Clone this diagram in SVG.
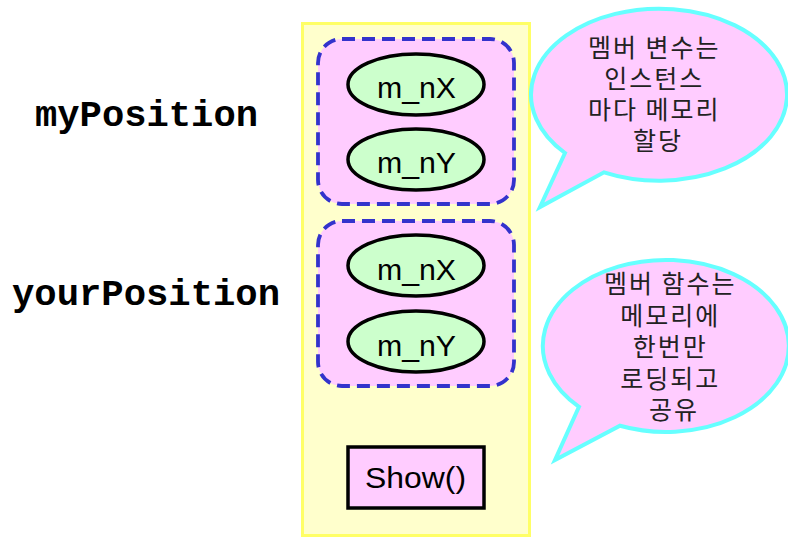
<svg xmlns="http://www.w3.org/2000/svg" width="788" height="537" viewBox="0 0 788 537">
  <style>
    .label { font-family: "Liberation Mono", "Courier New", monospace; font-weight: bold; font-size: 36px; fill: #000; }
    .member { fill: #ffccff; stroke: #3333cc; stroke-width: 3.8; stroke-dasharray: 13 7; }
    .field { fill: #ccffcc; stroke: #000; stroke-width: 3.5; }
    .ftext { font-family: "Liberation Sans", Arial, sans-serif; font-size: 29px; fill: #000; text-anchor: middle; }
    .bubble { fill: #ffccff; stroke: #66ffff; stroke-width: 4; stroke-linejoin: miter; }
    .btext { font-family: "Noto Sans CJK KR", "Noto Sans", sans-serif; font-size: 25px; fill: #222; text-anchor: middle; letter-spacing: 2px; }
  </style>

  <rect width="788" height="537" fill="#ffffff"/>

  <!-- object labels -->
  <g id="label-myPosition">
    <text class="label" x="35" y="126" textLength="223" lengthAdjust="spacingAndGlyphs">myPosition</text>
  </g>
  <g id="label-yourPosition">
    <text class="label" x="12" y="305" textLength="268" lengthAdjust="spacingAndGlyphs">yourPosition</text>
  </g>

  <!-- memory column -->
  <g id="memory">
    <rect x="302.5" y="23.5" width="227" height="512" fill="#ffffcc" stroke="#ffff66" stroke-width="3"/>
  </g>

  <!-- myPosition instance -->
  <g id="instance-my">
    <rect class="member" x="318" y="39" width="196" height="165" rx="24" ry="24"/>
    <ellipse class="field" cx="416" cy="84.5" rx="68" ry="30.5"/>
    <text class="ftext" x="416.5" y="98" textLength="79" lengthAdjust="spacingAndGlyphs">m_nX</text>
    <ellipse class="field" cx="416" cy="159.5" rx="68" ry="30.5"/>
    <text class="ftext" x="416.5" y="173" textLength="79" lengthAdjust="spacingAndGlyphs">m_nY</text>
  </g>

  <!-- yourPosition instance -->
  <g id="instance-your">
    <rect class="member" x="318" y="221" width="196" height="165" rx="24" ry="24"/>
    <ellipse class="field" cx="416" cy="265.5" rx="68" ry="30.5"/>
    <text class="ftext" x="416.5" y="280" textLength="79" lengthAdjust="spacingAndGlyphs">m_nX</text>
    <ellipse class="field" cx="416" cy="341.5" rx="68" ry="30.5"/>
    <text class="ftext" x="416.5" y="356" textLength="79" lengthAdjust="spacingAndGlyphs">m_nY</text>
  </g>

  <!-- shared member function -->
  <g id="method-show">
    <rect x="348" y="447" width="136" height="61" fill="#ffccff" stroke="#000" stroke-width="3.5"/>
    <text x="415.5" y="488" font-family="'Liberation Sans', Arial, sans-serif" font-size="30" text-anchor="middle" fill="#000" textLength="101" lengthAdjust="spacingAndGlyphs">Show()</text>
  </g>

  <!-- callout: member variables -->
  <g id="note-variables">
    <path class="bubble" d="M 565 153 L 540 207 L 604 172.3 A 128 86 0 1 0 565 153 Z"/>
    <text class="btext">
      <tspan x="658" y="57">멤버 변수는</tspan>
      <tspan x="658" y="88">인스턴스</tspan>
      <tspan x="658" y="119">마다 메모리</tspan>
      <tspan x="658" y="150">할당</tspan>
    </text>
  </g>

  <!-- callout: member functions -->
  <g id="note-functions">
    <path class="bubble" d="M 579 406.8 L 555 460 L 620 425.7 A 123 86 0 1 0 579 406.8 Z"/>
    <text class="btext">
      <tspan x="674" y="293">멤버 함수는</tspan>
      <tspan x="674" y="325">메모리에</tspan>
      <tspan x="674" y="356">한번만</tspan>
      <tspan x="674" y="388">로딩되고</tspan>
      <tspan x="674" y="419">공유</tspan>
    </text>
  </g>
</svg>
